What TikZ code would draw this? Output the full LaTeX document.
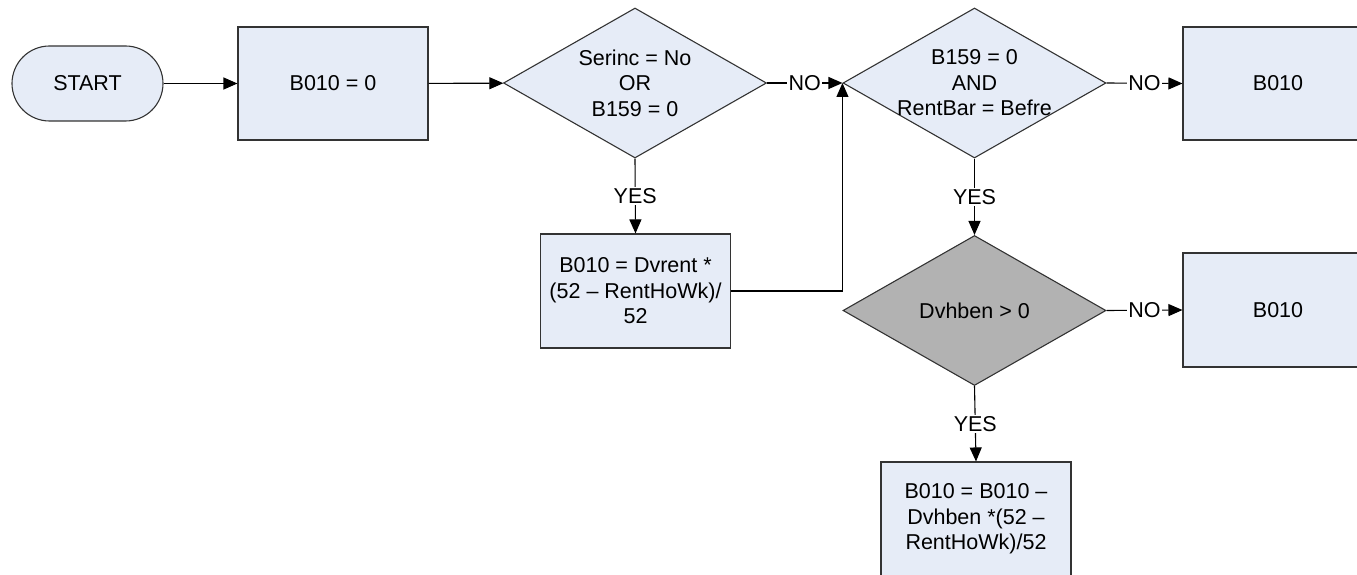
\documentclass[tikz,border=0pt]{standalone}
\usepackage{fontspec}
\setmainfont{Liberation Sans}
\usetikzlibrary{shapes.geometric,arrows.meta}
\definecolor{boxfill}{HTML}{E6ECF7}
\definecolor{boxline}{HTML}{333333}
\definecolor{grayfill}{HTML}{B2B2B2}
\begin{document}
\begin{tikzpicture}[x=1pt,y=-1pt,
  every node/.style={font=\fontsize{21.5}{25.5}\selectfont},
  procbox/.style={draw=boxline,fill=boxfill,line width=1.1pt,minimum width=190pt,minimum height=113pt,inner sep=0pt,align=center},
  termbox/.style={draw=boxline,fill=boxfill,line width=1.1pt,minimum width=151pt,minimum height=75pt,rounded corners=37.5pt,inner sep=0pt},
  decide/.style={diamond,draw=boxline,fill=boxfill,line width=1.1pt,minimum width=263pt,minimum height=150pt,inner sep=0pt,aspect=1.75},
  decidegray/.style={decide,fill=grayfill},
  dtext/.style={align=center,inner sep=0pt},
  conn/.style={line width=1.1pt,-{Triangle[length=14pt,width=12pt]}},
  lab/.style={fill=white,inner sep=1.5pt}
]
\useasboundingbox (0,0) rectangle (1357,575);
\clip (0,0) rectangle (1357,575);

\node[termbox] (start) at (87.5,83.5) {START};
\node[procbox] (b1) at (333,83.5) {B010 = 0};
\node[decide] (d1) at (635,83) {};
\node[dtext] (d1t) at (d1) {Serinc = No\\OR\\B159 = 0};
\node[procbox,minimum height=114pt] (b2) at (635.5,291) {B010 = Dvrent *\\(52 – RentHoWk)/\\52};
\node[decide] (d2) at (974.5,83) {};
\node[dtext] (d2t) at (d2) {B159 = 0\\AND\\RentBar = Befre};
\node[procbox] (b3) at (1278,83.5) {B010};
\node[decidegray] (d3) at (974.5,310.5) {};
\node[dtext] (d3t) at (d3) {Dvhben > 0};
\node[procbox,minimum height=114pt] (b4) at (1278,310) {B010};
\node[procbox,minimum height=114pt] (b5) at (976,519) {B010 = B010 –\\Dvhben *(52 –\\RentHoWk)/52};

\draw[conn] (start) -- (b1);
\draw[conn] (b1) -- (d1);
\draw[conn] (d1.east) -- node[lab] (no1) {NO} (d2.west);
\draw[conn] (d1.south) -- node[lab] (yes1) {YES} (b2.north);
\draw[conn] (b2.east) -| (d2.west);
\draw[conn] (d2.east) -- node[lab] (no2) {NO} (b3.west);
\draw[conn] (d2.south) -- node[lab] (yes2) {YES} (d3.north);
\draw[conn] (d3.east) -- node[lab] (no3) {NO} (b4.west);
\draw[conn] (d3.south) -- node[lab] (yes3) {YES} (b5.north);
\end{tikzpicture}
\end{document}
